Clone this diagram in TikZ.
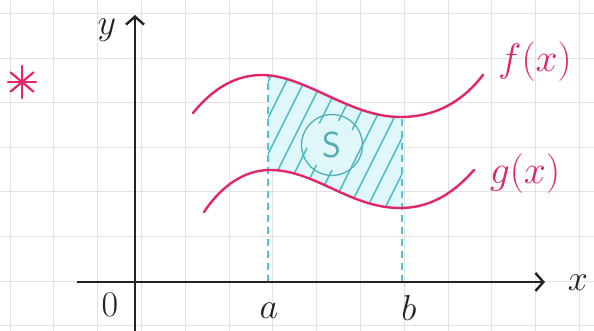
\documentclass[tikz,border=0pt]{standalone}
\usepackage{tikz}
\usetikzlibrary{arrows.meta}
\definecolor{inkpink}{RGB}{226,38,108}
\definecolor{inkdark}{RGB}{35,35,35}
\definecolor{hatchteal}{RGB}{70,185,195}
\definecolor{dashcyan}{RGB}{80,195,215}
\definecolor{shadecyan}{RGB}{224,247,250}
\definecolor{gridgrey}{RGB}{226,226,226}
\begin{document}
\begin{tikzpicture}[x=1pt, y=-1pt,
  every node/.style={font=\Huge, scale=1.45, inner sep=0pt},
  axis/.style={inkdark, line width=2.6pt, -{Straight Barb[length=8pt, width=18pt, line width=2.4pt]}},
  curve/.style={inkpink, line width=2.4pt, line cap=round},
  bound/.style={dashcyan, line width=1.6pt, dash pattern=on 7pt off 5pt},
  hatch/.style={hatchteal, line width=1.4pt},
  gridline/.style={gridgrey, line width=1pt}]
\useasboundingbox (0,0) rectangle (594,331);
\fill[white] (0,0) rectangle (594,331);
\foreach \i in {0,...,13} \draw[gridline] ({10+43.8*\i},0) -- ({10+43.8*\i},331);
\foreach \j in {0,...,7} \draw[gridline] (0,{14+44.5*\j}) -- (594,{14+44.5*\j});

\coordinate (orig) at (135,282);
\coordinate (xstart) at (77,282);
\coordinate (xend) at (545,282);
\coordinate (ystart) at (135,331);
\coordinate (yend) at (135,15);
\coordinate (afoot) at (268,282);
\coordinate (atop) at (268,75);
\coordinate (bfoot) at (402,282);
\coordinate (btop) at (402,117);
\coordinate (star) at (22,82);

\begin{scope}
\clip (268,0) rectangle (402,331);
\clip (193,113) .. controls (215,86) and (238,75) .. (262,75)
  .. controls (305,75) and (350,117) .. (400,117)
  .. controls (440,117) and (465,98) .. (483,75)
  -- (474,170) .. controls (458,188) and (435,208) .. (400,208)
  .. controls (350,208) and (315,170) .. (270,170)
  .. controls (245,170) and (222,185) .. (204,212) -- cycle;
\fill[shadecyan] (0,0) rectangle (594,331);
\foreach \h in {140,158,...,430} \draw[hatch] (\h,230) -- ++(90,-180);
\end{scope}
\fill[shadecyan] (332,145) circle (25);
\node[circle, draw=hatchteal!85!gray, line width=1.3pt, minimum size=42pt, scale=1,
      text=hatchteal!75!gray, font=\Huge\sffamily] (area) at (332,145) {S};

\draw[bound] (afoot) -- (atop);
\draw[bound] (bfoot) -- (btop);

\draw[curve] (193,113) .. controls (215,86) and (238,75) .. (262,75)
  .. controls (305,75) and (350,117) .. (400,117)
  .. controls (440,117) and (465,98) .. (483,75);
\draw[curve] (204,212) .. controls (222,185) and (245,170) .. (270,170)
  .. controls (315,170) and (350,208) .. (400,208)
  .. controls (435,208) and (458,188) .. (474,170);

\draw[axis] (xstart) -- (xend);
\draw[axis] (ystart) -- (yend);

\node[inkdark] (ylab) at (107,30) {$y$};
\node[inkdark] (xlab) at (578,283) {$x$};
\node[inkdark] (zero) at (110,305) {$0$};
\node[inkdark] (alab) at (269,311) {$a$};
\node[inkdark] (blab) at (409,308) {$b$};
\node[inkpink, scale=1.1] (flab) at (535,62) {$f(x)$};
\node[inkpink, scale=1.1] (glab) at (525,174) {$g(x)$};

\foreach \ang/\len in {90/16,0/14,40/15,140/15}
  \draw[inkpink, line width=2.2pt, line cap=round] (star) ++(\ang:\len) -- ++(\ang+180:2*\len);
\end{tikzpicture}
\end{document}
